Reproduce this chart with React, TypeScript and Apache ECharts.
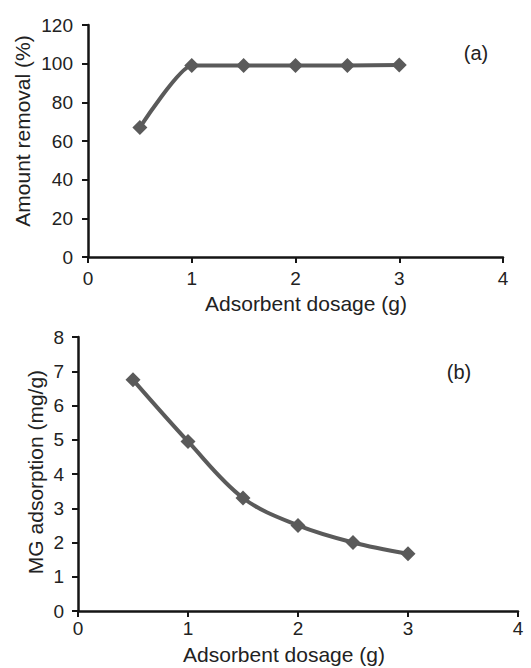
import React, { useEffect, useRef } from "react";
import * as echarts from "echarts";

const dosage = [0.5, 1, 1.5, 2, 2.5, 3];
const removal = [67, 99, 99, 99, 99, 99.3];
const adsorption = [6.75, 4.95, 3.3, 2.5, 2.0, 1.67];
const xTitle = "Adsorbent dosage (g)";
const yTitleA = "Amount removal (%)";
const yTitleB = "MG adsorption (mg/g)";
const panelLabels = ["(a)", "(b)"];

const FONT = "'Liberation Sans', Arial, sans-serif";
const TEXT = "#222";
const LINE = "#5a5a5a";
const AXIS = "#151515";

function xAxis(gridIndex: number, margin: number) {
  return {
    type: "value",
    gridIndex,
    min: 0,
    max: 4,
    interval: 1,
    axisLine: { show: true, onZero: false, lineStyle: { color: AXIS, width: 2.5 } },
    axisTick: { show: true, length: 6, lineStyle: { color: AXIS, width: 2 } },
    axisLabel: { color: TEXT, fontSize: 19, fontFamily: FONT, margin },
    splitLine: { show: false },
  };
}

function yAxis(gridIndex: number, max: number, interval: number, margin: number) {
  return {
    type: "value",
    gridIndex,
    min: 0,
    max,
    interval,
    axisLine: { show: true, lineStyle: { color: AXIS, width: 2.5 } },
    axisTick: { show: true, length: 6, lineStyle: { color: AXIS, width: 2 } },
    axisLabel: { color: TEXT, fontSize: 19, fontFamily: FONT, margin },
    splitLine: { show: false },
  };
}

function series(idx: number, values: number[], smooth: number) {
  return {
    type: "line",
    xAxisIndex: idx,
    yAxisIndex: idx,
    data: dosage.map((d, i) => [d, values[i]]),
    smooth,
    symbol: "diamond",
    symbolSize: 15,
    lineStyle: { color: LINE, width: 4 },
    itemStyle: { color: LINE },
  };
}

export default function App() {
  const ref = useRef<HTMLDivElement>(null);
  useEffect(() => {
    if (!ref.current) return;
    const chart = echarts.init(ref.current, undefined, { renderer: "svg" });
    const txt = (text: string, x: number, y: number, size: number, rotation = 0) => ({
      type: "text",
      x,
      y,
      rotation,
      style: {
        text,
        fill: TEXT,
        font: `${size}px ${FONT}`,
        textAlign: "center",
        textVerticalAlign: "middle",
      },
    });
    chart.setOption({
      animation: false,
      backgroundColor: "#fff",
      grid: [
        { left: 88, right: 28, top: 25, bottom: 411 },
        { left: 78, right: 13, top: 337, bottom: 57 },
      ],
      xAxis: [xAxis(0, 12), xAxis(1, 8)],
      yAxis: [yAxis(0, 120, 20, 15), yAxis(1, 8, 1, 14)],
      series: [series(0, removal, 0.18), series(1, adsorption, 0.35)],
      graphic: [
        txt(xTitle, 306, 303, 21),
        txt(xTitle, 284, 654, 21),
        txt(yTitleA, 22, 131, 21, Math.PI / 2),
        txt(yTitleB, 35, 472, 21, Math.PI / 2),
        txt(panelLabels[0], 476, 53, 20),
        txt(panelLabels[1], 459, 372, 20),
      ],
    });
    return () => chart.dispose();
  }, []);
  return (
    <div
      ref={ref}
      style={{ position: "absolute", left: 0, top: 0, width: 531, height: 668 }}
    />
  );
}
